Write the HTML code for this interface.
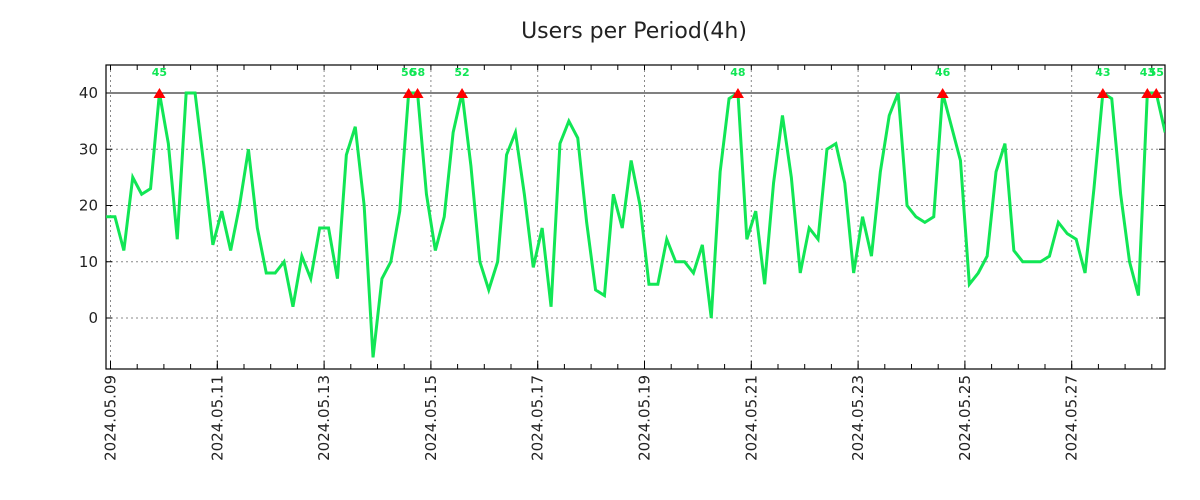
<!DOCTYPE html>
<html><head><meta charset="utf-8"><style>
body{margin:0;background:#fff;}
svg{display:block;font-family:"DejaVu Sans","Liberation Sans",sans-serif;}
</style></head><body>
<svg id="chart" width="1200" height="500" viewBox="0 0 1200 500">
<defs><clipPath id="pc"><rect x="106" y="60" width="1059" height="309"/></clipPath></defs>
<text x="634" y="38" font-size="22" text-anchor="middle" fill="#222">Users per Period(4h)</text>
<g id="grid"></g><g id="axes"></g><g id="series" clip-path="url(#pc)"></g><g id="marks"></g>
</svg>
<script>
const values = [18,18,12,25,22,23,45,31,14,40,40,27,13,19,12,20,30,16,8,8,10,2,11,7,16,16,7,29,34,20,-7,7,10,19,56,58,22,12,18,33,52,27,10,5,10,29,33,22,9,16,2,31,35,32,17,5,4,22,16,28,20,6,6,14,10,10,8,13,0,26,39,48,14,19,6,24,36,25,8,16,14,30,31,24,8,18,11,26,36,40,20,18,17,18,46,34,28,6,8,11,26,31,12,10,10,10,11,17,15,14,8,23,43,39,22,10,4,43,55,33];
const startHour = -2;
const stepHours = 4;
const yTicks = [0,10,20,30,40];
const dateLabels = ["2024.05.09","2024.05.11","2024.05.13","2024.05.15","2024.05.17","2024.05.19","2024.05.21","2024.05.23","2024.05.25","2024.05.27"];
const threshold = 40;

const L=106,R=1165,T=65,B=369;
const xH = h => 110.5 + h*53.4/24;
const yV = v => 318 - v*5.625;
const NS="http://www.w3.org/2000/svg";
function mk(p,tag,attrs){const e=document.createElementNS(NS,tag);for(const k in attrs)e.setAttribute(k,attrs[k]);p.appendChild(e);return e;}
const grid=document.getElementById('grid'),axes=document.getElementById('axes'),series=document.getElementById('series'),marks=document.getElementById('marks');

yTicks.forEach(v=>{
  const y=yV(v);
  const g=mk(grid,'line',{x1:L,x2:R,y1:y,y2:y,stroke:'#888','stroke-dasharray':'2,3','stroke-width':1});
  
  
  mk(axes,'line',{x1:L,x2:L+6,y1:y,y2:y,stroke:'#000'});
  mk(axes,'line',{x1:R,x2:R-6,y1:y,y2:y,stroke:'#000'});
  const t=mk(axes,'text',{x:98,y:y+5,'font-size':15,'text-anchor':'end',fill:'#222'});
  t.textContent=v;
  
  
});
const tl=mk(grid,'line',{x1:L,x2:R,y1:yV(threshold),y2:yV(threshold),stroke:'#000','stroke-width':1});



for(let h=0;xH(h)<=R;h+=12){
  const x=xH(h);
  mk(axes,'line',{x1:x,x2:x,y1:B,y2:B-5,stroke:'#000'});
  mk(axes,'line',{x1:x,x2:x,y1:T,y2:T+5,stroke:'#000'});
}
dateLabels.forEach((d,i)=>{
  const x=xH(i*48);
  const g=mk(grid,'line',{x1:x,x2:x,y1:T,y2:B,stroke:'#888','stroke-dasharray':'2,3','stroke-width':1});
  
  
  mk(axes,'line',{x1:x,x2:x,y1:B,y2:B-8,stroke:'#000'});
  const t=mk(axes,'text',{x:0,y:0,'font-size':15,'text-anchor':'end',fill:'#222',transform:`translate(${x+5},${B+6}) rotate(-90)`});
  t.textContent=d;
  
  
});
const fr=mk(axes,'rect',{x:L,y:T,width:R-L,height:B-T,fill:'none',stroke:'#000','stroke-width':1.2});



const pts=values.map((v,i)=>[xH(startHour+i*stepHours),yV(Math.min(v,threshold))]);
const pl=mk(series,'polyline',{points:pts.map(p=>p.join(',')).join(' '),fill:'none',stroke:'#11e655','stroke-width':3,'stroke-linejoin':'miter'});



values.forEach((v,i)=>{
  if(v<=threshold)return;
  const x=xH(startHour+i*stepHours),y=yV(threshold);
  const m=mk(marks,'polygon',{points:`${x-6},${y+5} ${x+6},${y+5} ${x},${y-5}`,fill:'#f00'});
  
  
  const t=mk(marks,'text',{x:x,y:76,'font-size':11,'font-weight':'bold','text-anchor':'middle',fill:'#11e655'});
  t.textContent=v;
  
  
});
</script>
</body></html>
